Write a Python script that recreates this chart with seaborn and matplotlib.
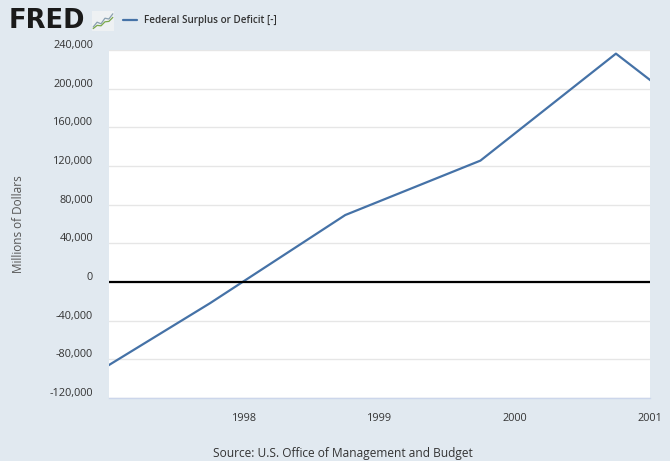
import pandas as pd
import matplotlib
matplotlib.use("Agg")
import matplotlib.pyplot as plt
import matplotlib.transforms as mtransforms
import seaborn as sns

# Federal Surplus or Deficit, fiscal years (dated Oct 1)
dates = ["1996-10-01", "1997-10-01", "1998-10-01", "1999-10-01", "2000-10-01", "2001-10-01"]
values = [-107431, -21884, 69270, 125563, 236241, 128236]
y_ticks = [-120000, -80000, -40000, 0, 40000, 80000, 120000, 160000, 200000, 240000]
x_ticks = ["1998-01-01", "1999-01-01", "2000-01-01", "2001-01-01"]
x_tick_labels = ["1998", "1999", "2000", "2001"]
series_name = "Federal Surplus or Deficit [-]"

df = pd.DataFrame({"date": pd.to_datetime(dates), "value": values})

sns.set_style("white")
plt.rcParams["font.family"] = ["Open Sans", "DejaVu Sans"]

bg = "#e1e9f0"
W, H = 670, 461
fig = plt.figure(figsize=(W / 100, H / 100), dpi=100, facecolor=bg)
ax = fig.add_axes([109 / W, (H - 398) / H, (650 - 109) / W, (398 - 50) / H])
ax.set_facecolor("white")

sns.lineplot(data=df, x="date", y="value", ax=ax, color="#4572a7", linewidth=1.6)
ax.axhline(0, color="black", linewidth=1.6, zorder=3)

ax.set_xlim(pd.Timestamp("1997-01-01"), pd.Timestamp("2001-01-01"))
ax.set_ylim(-120000, 240000)

ax.set_yticks(y_ticks)
ax.set_yticklabels([f"{v:,}" for v in y_ticks])
ax.set_xticks(pd.to_datetime(x_ticks))
ax.set_xticklabels(x_tick_labels)

ax.grid(axis="y", color="#e6e6e6", linewidth=1)
for side in ["top", "right", "left"]:
    ax.spines[side].set_visible(False)
ax.spines["bottom"].set_color("#ccd6eb")
ax.spines["bottom"].set_linewidth(1)

ax.tick_params(axis="y", length=0, pad=11.5, labelsize=7.8, labelcolor="#333333")
ax.tick_params(axis="x", length=8, width=1, color="#ccd6eb", pad=3, labelsize=7.8,
               labelcolor="#333333")

# shift y labels up like FRED
offset = mtransforms.ScaledTranslation(0, 6 / 100, fig.dpi_scale_trans)
for lbl in ax.get_yticklabels():
    lbl.set_transform(lbl.get_transform() + offset)

ax.set_xlabel("")
ax.set_ylabel("")
fig.text(19 / W, 1 - 224 / H, "Millions of Dollars", rotation=90, ha="center", va="center",
         fontsize=8.5, color="#555555")

fig.text(343 / W, 1 - 453 / H, "Source: U.S. Office of Management and Budget", ha="center",
         va="center", fontsize=8.6, color="#333333")

# header: logo and legend
fig.text(9 / W, 1 - 21 / H, "FRED", ha="left", va="center", fontsize=18.5, fontweight="bold",
         color="#1a1a1a", family=["DejaVu Sans"])
logo = fig.add_axes([92 / W, 1 - 31 / H, 22 / W, 20 / H])
logo.set_facecolor("#eef1f3")
logo_x = [0, 1, 2, 3, 4, 5]
logo_a = [1.0, 2.2, 1.8, 3.2, 3.0, 4.3]
logo_b = [0.6, 1.4, 1.3, 2.3, 2.4, 3.4]
logo.plot(logo_x, logo_a, color="#8aa0b0", linewidth=0.9)
logo.plot(logo_x, logo_b, color="#7aa84a", linewidth=0.9)
logo.set_xlim(-0.3, 5.3)
logo.set_ylim(0, 5)
logo.set_xticks([])
logo.set_yticks([])
for s in logo.spines.values():
    s.set_visible(False)

fig.add_artist(plt.Line2D([123 / W, 137 / W], [1 - 20 / H, 1 - 20 / H], color="#4572a7",
                          linewidth=1.6))
fig.text(144 / W, 1 - 20 / H, series_name, ha="left", va="center", fontsize=7.1,
         fontweight="semibold", color="#333333")

fig.savefig("out.png", dpi=100, facecolor=bg)
